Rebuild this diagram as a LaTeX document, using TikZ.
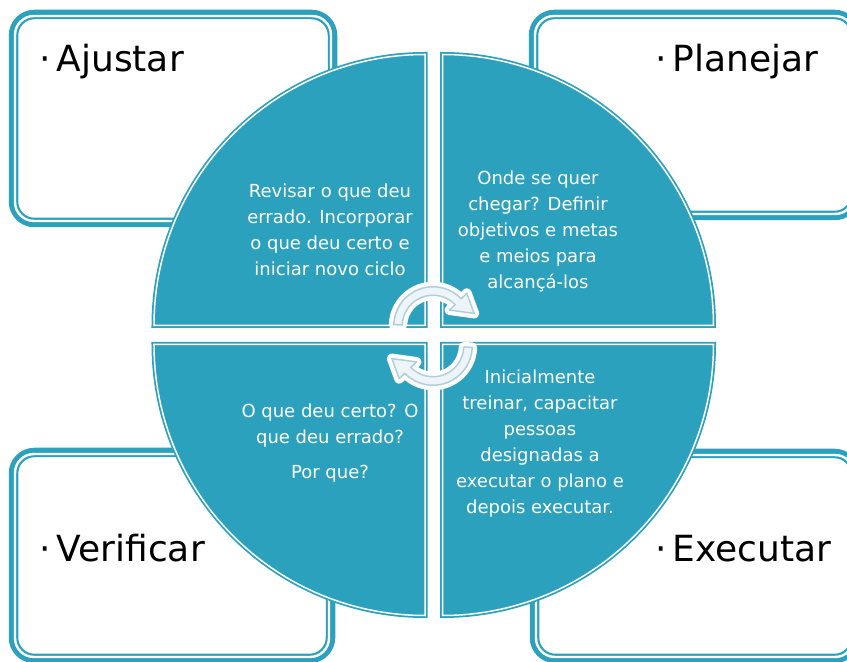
\documentclass[tikz,border=0pt]{standalone}
\usepackage{fontspec}
\setmainfont{DejaVu Sans}
\usetikzlibrary{calc}
\definecolor{tealc}{RGB}{44,161,190}
\definecolor{arrline}{RGB}{176,206,220}
\definecolor{arrfill}{RGB}{238,245,249}
\newcommand\cornerbox[4]{%
  \draw[boxouter] (#1+4.5,#2+4.5) rectangle (#3-4.5,#4-4.5);
  \draw[boxinner] (#1+6,#2+6) rectangle (#3-6,#4-6);}
\newcommand\quadrant[3]{%
  \path[quad] (#1,#2) -- ++(#3:271) arc[start angle=#3, delta angle=-90, radius=271] -- cycle;
  \draw[quadline] (#1,#2) -- ++(#3:271) arc[start angle=#3, delta angle=-90, radius=271] -- cycle;}
\newcommand\cycarrow{%
  \path[arrglow] (178:39.25) arc[start angle=178, end angle=44, radius=39.25]
     -- (44:47) -- (17:43) -- (44:23) -- (44:30.75)
     arc[start angle=44, end angle=178, radius=30.75] -- cycle;
  \path[arrbody] (178:39.25) arc[start angle=178, end angle=44, radius=39.25]
     -- (44:47) -- (17:43) -- (44:23) -- (44:30.75)
     arc[start angle=44, end angle=178, radius=30.75] -- cycle;}
\begin{document}
\begin{tikzpicture}[x=1pt,y=1pt,
  boxouter/.style={draw=tealc, line width=9.5pt, rounded corners=21pt},
  boxinner/.style={draw=white, line width=2.4pt, rounded corners=19pt},
  quad/.style={fill=tealc, draw=tealc, line width=5pt},
  quadline/.style={draw=white, line width=1.5pt},
  arrglow/.style={fill=white, draw=white, line width=10pt, line join=round},
  arrbody/.style={fill=arrfill, draw=arrline, line width=1.5pt, line join=round},
  biglabel/.style={font=\fontsize{36}{40}\selectfont, inner sep=0pt, anchor=base west},
  body/.style={font=\fontsize{18}{26}\selectfont, text=white, align=center, inner sep=0pt, anchor=base}]
\useasboundingbox (0,0) rectangle (847,662);
\fill[white] (0,0) rectangle (847,662);
% corner boxes
\cornerbox{9}{435}{337}{652}
\cornerbox{529}{442}{860}{652}
\cornerbox{9}{-1}{335}{214}
\cornerbox{530}{-1}{860}{213}
% quadrants
\quadrant{425}{336.5}{180}
\quadrant{442.5}{336.5}{90}
\quadrant{442.5}{317.5}{0}
\quadrant{425}{317.5}{270}
% labels
\node[biglabel] (ajustar) at (39,590) {·\hspace{6pt}Ajustar};
\node[biglabel] (planejar) at (655,590) {·\hspace{6pt}Planejar};
\node[biglabel] (verificar) at (39,100) {·\hspace{6pt}Verificar};
\node[biglabel] (executar) at (655,100) {·\hspace{6pt}Executar};
% body texts (base anchor = last line baseline)
\node[body] (tAjustar) at (330,386) {Revisar o que deu\\errado. Incorporar\\o que deu certo e\\iniciar novo ciclo};
\node[body] (tPlanejar) at (538,373) {Onde se quer\\chegar? Definir\\objetivos e metas\\e meios para\\alcançá-los};
\node[body] (tExecutar) at (540,148) {Inicialmente\\treinar, capacitar\\pessoas\\designadas a\\executar o plano e\\depois executar.};
\node[body] (tVerificar) at (330,183) {O que deu certo? O\\que deu errado?\\[9pt]Por que?};
% cycle arrows
\begin{scope}[shift={(433,336)}]
  \cycarrow
\end{scope}
\begin{scope}[shift={(433,316)}, rotate=180]
  \cycarrow
\end{scope}
\end{tikzpicture}
\end{document}
